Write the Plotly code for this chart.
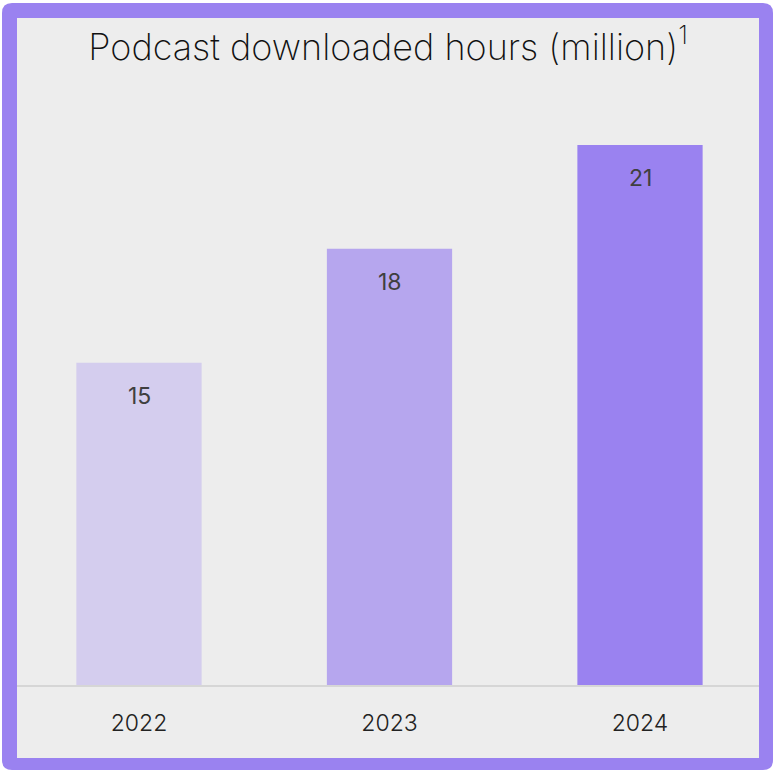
import plotly.graph_objects as go

# ---- data ----
years = ["2022", "2023", "2024"]
hours = [15.0, 18.3, 21.3]
value_labels = ["15", "18", "21"]
bar_colors = ["#d4cdee", "#b6a6ee", "#9a82f0"]
title_text = "Podcast downloaded hours (million)<sup>1</sup>"

W, H = 776, 772
L, R, T, B = 17, 17, 100, 87
pw, ph = W - L - R, H - T - B


def px_x(p):
    return (p - L) / pw


def px_y(p):
    return (H - B - p) / ph


fig = go.Figure(
    go.Bar(
        x=years,
        y=hours,
        marker=dict(color=bar_colors, line=dict(width=0)),
        width=0.5,
        hoverinfo="skip",
    )
)

annotations = []
for i, (v, lab) in enumerate(zip(hours, value_labels)):
    annotations.append(dict(
        x=i, y=v, xref="x", yref="y",
        text=lab, showarrow=False,
        xanchor="center", yanchor="top", yshift=-17,
        font=dict(family="Inter", size=23, color="#3f3f3f", weight=400),
    ))

# border frame
ox0, oy0, ox1, oy1, rr = 2, 3, 773, 770, 10
path = (
    f"M {px_x(ox0+rr)},{px_y(oy0)} L {px_x(ox1-rr)},{px_y(oy0)} "
    f"Q {px_x(ox1)},{px_y(oy0)} {px_x(ox1)},{px_y(oy0+rr)} "
    f"L {px_x(ox1)},{px_y(oy1-rr)} Q {px_x(ox1)},{px_y(oy1)} {px_x(ox1-rr)},{px_y(oy1)} "
    f"L {px_x(ox0+rr)},{px_y(oy1)} Q {px_x(ox0)},{px_y(oy1)} {px_x(ox0)},{px_y(oy1-rr)} "
    f"L {px_x(ox0)},{px_y(oy0+rr)} Q {px_x(ox0)},{px_y(oy0)} {px_x(ox0+rr)},{px_y(oy0)} Z"
)
shapes = [
    dict(type="path", path=path, xref="paper", yref="paper",
         fillcolor="#9a82f0", line=dict(width=0), layer="below"),
    dict(type="rect", xref="paper", yref="paper",
         x0=px_x(17), x1=px_x(759), y0=px_y(758), y1=px_y(18),
         fillcolor="#ededed", line=dict(width=0), layer="below"),
]

fig.update_layout(
    width=W, height=H,
    margin=dict(l=L, r=R, t=T, b=B, pad=0),
    paper_bgcolor="white",
    plot_bgcolor="rgba(0,0,0,0)",
    showlegend=False,
    shapes=shapes,
    annotations=annotations,
    title=dict(
        text=title_text, x=0.5, xanchor="center",
        y=1 - 47 / H, yref="container", yanchor="middle",
        font=dict(family="Inter", size=36, color="#111111", weight=200),
    ),
    xaxis=dict(
        type="category",
        range=[-0.487, 2.475], showgrid=False, zeroline=False,
        showline=True, linecolor="#d6d6d6", linewidth=1.5,
        ticks="", ticklabelstandoff=17,
        tickfont=dict(family="Inter", size=23, color="#222222", weight=300),
    ),
    yaxis=dict(
        range=[5.69, 5.69 + ph / 34.6], showgrid=False,
        zeroline=False, showline=False, showticklabels=False, ticks="",
    ),
)

fig.write_html("out.html")
